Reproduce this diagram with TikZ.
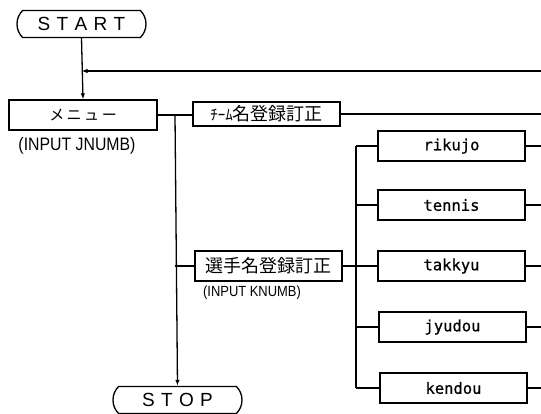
\documentclass[tikz,border=0pt]{standalone}
\usepackage{fontspec}
\setmainfont{Liberation Sans}
\newfontfamily\jpfont{Noto Sans CJK JP}
\newfontfamily\narrowfont[FakeStretch=0.88]{Liberation Sans}
\newfontfamily\monofont[FakeBold=0.6]{DejaVu Sans Mono}
\usetikzlibrary{shapes.misc,arrows.meta}
\tikzset{
  box/.style={draw,line width=1.3pt,rectangle,inner sep=0pt,minimum width=147pt,minimum height=30pt},
  term/.style={draw,line width=1.3pt,rounded rectangle,rounded rectangle arc length=90,inner sep=0pt,minimum width=129pt,minimum height=27pt,font=\fontsize{19}{19}\selectfont},
  wire/.style={line width=1.3pt},
  arr/.style={wire,-{Latex[length=6pt,width=4.5pt]}},
  lbl/.style={inner sep=0pt,font=\narrowfont\fontsize{18}{18}\selectfont},
  jp/.style={font=\jpfont\fontsize{18}{18}\selectfont},
  en/.style={font=\monofont\fontsize{15.5}{15.5}\selectfont}
}
\begin{document}
\begin{tikzpicture}[x=1pt,y=-1pt]
\useasboundingbox (0,0) rectangle (541,414);
\node[term] (start) at (81.5,24) {S\,\,T\,\,A\,\,R\,\,T};
\node[box,jp,minimum width=148pt,font=\jpfont\fontsize{15}{15}\selectfont] (menu) at (83,115) {メ\,ニ\,ュ\,ー};
\node[lbl] (jn) at (77,146) {(INPUT JNUMB)};
\node[box,jp,minimum height=24pt] (team) at (266.5,114) {\fontsize{15}{15}\selectfont ﾁｰﾑ\fontsize{18}{18}\selectfont 名登録訂正};
\node[box,jp] (sel) at (268.5,266) {選手名登録訂正};
\node[lbl,font=\narrowfont\fontsize{14.7}{14.7}\selectfont] (kn) at (252,293) {(INPUT KNUMB)};
\node[box,en] (riku) at (451.5,146) {rikujo};
\node[box,en] (ten) at (451.5,205) {tennis};
\node[box,en] (tak) at (451.5,266) {takkyu};
\node[box,en] (jyu) at (452.5,327) {jyudou};
\node[box,en] (ken) at (453.5,388) {kendou};
\node[term] (stop) at (177.5,400) {S\,\,T\,\,O\,\,P};

\coordinate (j1) at (81.5,71);
\coordinate (r0) at (541,71);
\coordinate (v1) at (175,115);
\coordinate (v2) at (175,266);
\coordinate (w1) at (356,146);
\coordinate (w2) at (356,205);
\coordinate (w3) at (356,266);
\coordinate (w4) at (356,327);
\coordinate (w5) at (356,388);
\coordinate (rt) at (541,114);
\coordinate (r1) at (541,146);
\coordinate (r2) at (541,205);
\coordinate (r3) at (541,266);
\coordinate (r4) at (541,327);
\coordinate (r5) at (541,388);

\draw[arr] (start.south) -- (menu.north);
\draw[arr] (r0) -- (j1);
\draw[wire] (menu.east) -- (menu.east -| team.west);
\draw[wire] (team.east) -- (rt);
\draw[arr] (v1) -- (stop.north);
\draw[wire] (v2) -- (sel.west);
\draw[wire] (sel.east) -- (w3);
\draw[wire] (w1) -- (w5);
\draw[wire] (w1) -- (riku.west);
\draw[wire] (w2) -- (ten.west);
\draw[wire] (w3) -- (tak.west);
\draw[wire] (w4) -- (jyu.west);
\draw[wire] (w5) -- (ken.west);
\draw[wire] (riku.east) -- (r1);
\draw[wire] (ten.east) -- (r2);
\draw[wire] (tak.east) -- (r3);
\draw[wire] (jyu.east) -- (r4);
\draw[wire] (ken.east) -- (r5);
\end{tikzpicture}
\end{document}
